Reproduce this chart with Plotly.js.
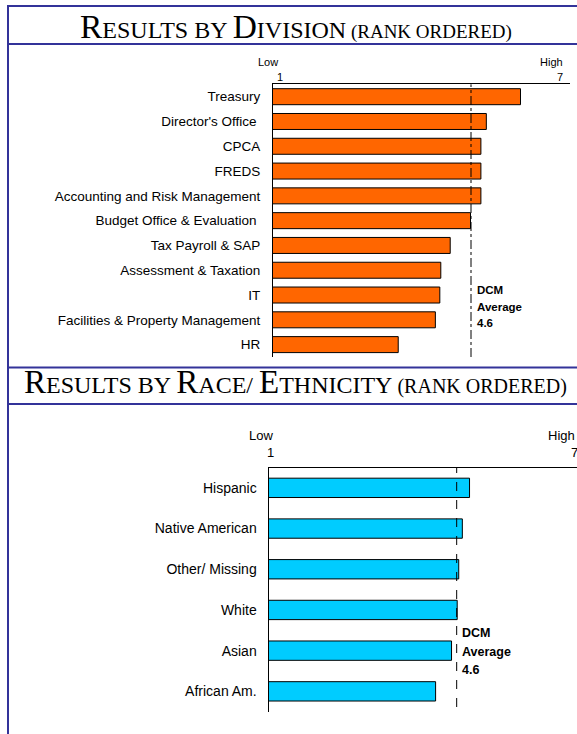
<!DOCTYPE html>
<html>
<head>
<meta charset="utf-8">
<script src="https://cdn.plot.ly/plotly-3.0.1.min.js"></script>
<style>html,body{margin:0;padding:0;background:#fff;}#chart{width:577px;height:734px;}</style>
</head>
<body>
<div id="chart"></div>
<script>
// ---- data ----
const divisions = ["Treasury", "Director's Office\u00a0", "CPCA", "FREDS", "Accounting and Risk Management",
  "Budget Office & Evaluation\u00a0", "Tax Payroll & SAP", "Assessment & Taxation", "IT",
  "Facilities & Property Management", "HR"];
const divisionScores = [6.00, 5.31, 5.20, 5.20, 5.20, 4.99, 4.58, 4.39, 4.37, 4.28, 3.53];
const races = ["Hispanic", "Native American", "Other/ Missing", "White", "Asian", "African Am."];
const raceScores = [4.91, 4.77, 4.70, 4.67, 4.56, 4.25];
const scaleMin = 1, scaleMax = 7;
const scaleLabels = ["Low", "High"];
const dcmLineDivision = 5.0;   // position of the dashed line as drawn in the top chart
const dcmLineRace = 4.66;      // position of the dashed line as drawn in the bottom chart
const dcmLabel = ["DCM", "Average", "4.6"];

// ---- helpers ----
const W = 577, H = 734;
const px = x => x / W;
const py = y => 1 - y / H;
const BLUE = '#333399';
const SANS = 'Liberation Sans, Arial, sans-serif';
const SERIF = 'Liberation Serif, Times New Roman, serif';

function note(text, x, y, size, opts) {
  return Object.assign({
    text: text, xref: 'paper', yref: 'paper', x: px(x), y: py(y),
    xanchor: 'center', yanchor: 'middle', showarrow: false,
    font: {family: SANS, size: size, color: '#000'}
  }, opts || {});
}
function hline(y) {
  return {type: 'line', xref: 'paper', yref: 'paper', x0: px(7), x1: 1, y0: py(y), y1: py(y),
    line: {color: BLUE, width: 2}};
}
function title(parts) {
  return parts.map(p => '<span style="font-size:' + p[1] + 'px">' + p[0] + '</span>').join('');
}

const traces = [
  {type: 'bar', orientation: 'h', y: divisions, x: divisionScores, xaxis: 'x', yaxis: 'y',
   width: 0.645, marker: {color: '#FF6600', line: {color: '#000', width: 1}}, hoverinfo: 'x+y'},
  {type: 'bar', orientation: 'h', y: races, x: raceScores, xaxis: 'x2', yaxis: 'y2',
   width: 0.475, marker: {color: '#00CCFF', line: {color: '#000', width: 1}}, hoverinfo: 'x+y'}
];

const axisCommon = {showgrid: false, zeroline: false, showline: true, linecolor: '#000', linewidth: 1,
  ticks: '', fixedrange: true};

const layout = {
  width: W, height: H, margin: {l: 0, r: 0, t: 0, b: 0},
  paper_bgcolor: '#fff', plot_bgcolor: 'rgba(0,0,0,0)', showlegend: false,
  font: {family: SANS, color: '#000'},
  xaxis: Object.assign({}, axisCommon, {domain: [px(273), px(570)], range: [scaleMin, scaleMax],
    side: 'top', anchor: 'y', showticklabels: false}),
  yaxis: Object.assign({}, axisCommon, {domain: [py(357), py(84.3)], type: 'category',
    range: [divisions.length - 0.5, -0.5], anchor: 'x', ticklabelstandoff: 9,
    tickfont: {family: SANS, size: 13.5, color: '#000'}}),
  xaxis2: Object.assign({}, axisCommon, {domain: [px(268.5), 1], range: [scaleMin, scaleMax],
    side: 'top', anchor: 'y2', showticklabels: false}),
  yaxis2: Object.assign({}, axisCommon, {domain: [py(711.7), py(467.5)], type: 'category',
    range: [races.length - 0.5, -0.5], anchor: 'x2', ticklabelstandoff: 8,
    tickfont: {family: SANS, size: 14, color: '#000'}}),
  shapes: [
    {type: 'line', xref: 'paper', yref: 'paper', x0: px(8), x1: px(8), y0: 0, y1: py(5),
     line: {color: BLUE, width: 2}},
    hline(6), hline(44), hline(367.5), hline(404),
    {type: 'line', xref: 'x', yref: 'paper', x0: dcmLineDivision, x1: dcmLineDivision,
     y0: py(357), y1: py(84.3), line: {color: '#000', width: 1, dash: 'dashdot'}},
    {type: 'line', xref: 'x2', yref: 'paper', x0: dcmLineRace, x1: dcmLineRace,
     y0: py(707), y1: py(467.5), line: {color: '#000', width: 1, dash: 'dash'}}
  ],
  annotations: [
    note(title([['R', 33.5], ['ESULTS BY ', 24], ['D', 33.5], ['IVISION', 24], [' (RANK ORDERED)', 19]]),
      296, 26.5, 33.5, {font: {family: SERIF, size: 33.5, color: '#000'}}),
    note(title([['R', 33], ['ESULTS BY ', 24], ['R', 33], ['ACE/ ', 24], ['E', 33], ['THNICITY', 24], [' (RANK ORDERED)', 20]]),
      295, 382, 33, {font: {family: SERIF, size: 33, color: '#000'}}),
    note(scaleLabels[0], 268.3, 61.7, 11),
    note(scaleLabels[1], 551.7, 61.7, 11),
    note(String(scaleMin), 279.5, 76.7, 11),
    note(String(scaleMax), 560, 76.7, 11),
    note(scaleLabels[0], 260.8, 435, 13),
    note(scaleLabels[1], 577, 435, 13, {xanchor: 'right'}),
    note(String(scaleMin), 270, 452.7, 13),
    note(String(scaleMax), 574, 452.7, 13),
    note('<b>' + dcmLabel[0] + '</b>', 475, 290, 11.5, {xanchor: 'left'}),
    note('<b>' + dcmLabel[1] + '</b>', 475, 306.7, 11.5, {xanchor: 'left'}),
    note('<b>' + dcmLabel[2] + '</b>', 475, 323.3, 11.5, {xanchor: 'left'}),
    note('<b>' + dcmLabel[0] + '</b>', 460, 633.3, 12.5, {xanchor: 'left'}),
    note('<b>' + dcmLabel[1] + '</b>', 460, 652.3, 12.5, {xanchor: 'left'}),
    note('<b>' + dcmLabel[2] + '</b>', 460, 670, 12.5, {xanchor: 'left'})
  ]
};

Plotly.newPlot('chart', traces, layout, {staticPlot: true, displayModeBar: false});
</script>
</body>
</html>
